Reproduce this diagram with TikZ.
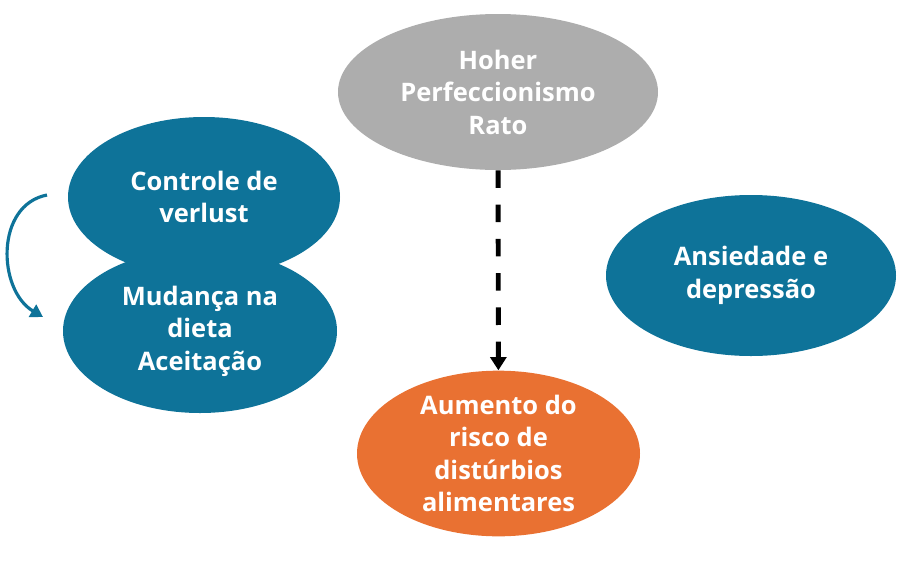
\documentclass[tikz,border=0pt]{standalone}
\usepackage{fontspec}
\setmainfont{Open Sans}
\usetikzlibrary{shapes.geometric,arrows.meta}
\definecolor{azul}{HTML}{0E7399}
\definecolor{cinza}{HTML}{ADADAD}
\definecolor{laranja}{HTML}{E97132}
\begin{document}
\begin{tikzpicture}

\tikzset{bolha/.style={ellipse,inner sep=0pt,fill=azul,text=white,align=center,font=\bfseries\fontsize{14.5}{18.5}\selectfont},}
\tikzset{bolha2/.style={bolha,fill=cinza},}
\tikzset{bolha3/.style={bolha,fill=laranja},}
\tikzset{seta/.style={line width=2.8pt,dash pattern=on 10pt off 9.5pt,-{Triangle[width=9pt,length=7.5pt]}},}
\tikzset{volta/.style={azul,line width=1.8pt,-{Triangle[width=8pt,length=7pt]}},}

\useasboundingbox (0,0) rectangle (18.26,-11.48);

%CENTRO
\draw (9.96,-1.84) node [bolha2,minimum width=6.4cm,minimum height=3.12cm] (perf) {Hoher\\Perfeccionismo\\Rato};
\draw (9.97,-9.07) node [bolha3,minimum width=5.66cm,minimum height=3.06cm] (risco) {Aumento do\\risco de\\distúrbios\\alimentares};

\draw[seta] (perf) -- (risco);

%ESQUERDA
\draw (4.08,-3.94) node [bolha,minimum width=5.44cm,minimum height=3.2cm] (controle) {Controle de\\verlust};
\draw (4.0,-6.62) node [bolha,minimum width=5.48cm,minimum height=3.28cm] (mudanca) {Mudança na\\dieta\\Aceitação};

\coordinate (v1) at (0.94,-3.9);
\coordinate (v2) at (0.86,-6.34);
\draw[volta] (v1) .. controls (-0.1,-4.1) and (-0.05,-5.8) .. (v2);

%DIREITA
\draw (15.02,-5.51) node [bolha,minimum width=5.8cm,minimum height=3.22cm] (ansiedade) {Ansiedade e\\depressão};

\end{tikzpicture}
\end{document}
